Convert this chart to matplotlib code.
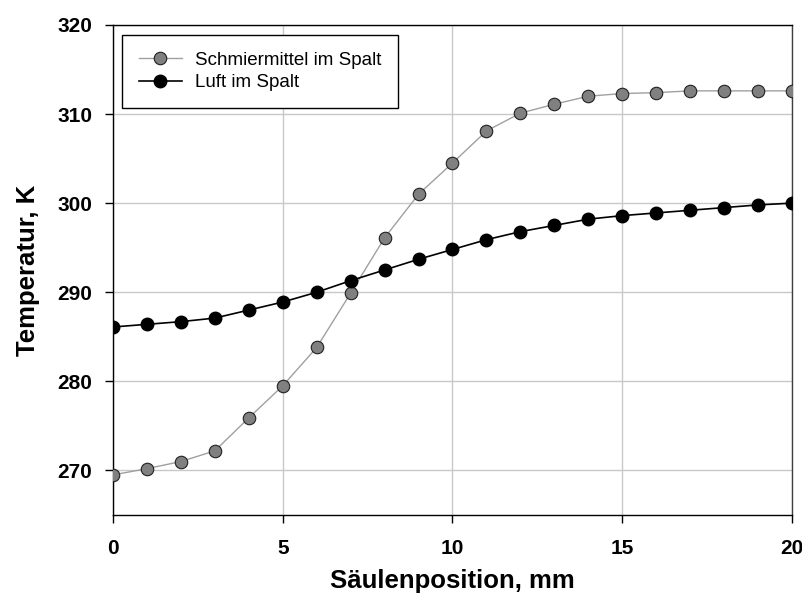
import matplotlib
matplotlib.use("Agg")
import matplotlib.pyplot as plt
import numpy as np

# Säulenposition, mm
position = np.arange(0, 21)

# Temperatur, K
schmiermittel = [269.5, 270.2, 271.0, 272.2, 275.9, 279.5, 283.8, 289.9, 296.1, 301.0,
                 304.5, 308.1, 310.1, 311.1, 312.0, 312.3, 312.4, 312.6, 312.6, 312.6, 312.6]
luft = [286.1, 286.4, 286.7, 287.1, 288.0, 288.9, 290.0, 291.3, 292.5, 293.7,
        294.8, 295.9, 296.8, 297.5, 298.2, 298.6, 298.9, 299.2, 299.5, 299.8, 300.0]

x_ticks = [0, 5, 10, 15, 20]
y_ticks = [270, 280, 290, 300, 310, 320]

plt.rcParams["font.family"] = ["Liberation Sans", "DejaVu Sans"]

fig = plt.figure(figsize=(8.03, 5.98), dpi=100)
ax = fig.add_axes([0.1407, 0.1388, 0.8456, 0.8195])

ax.plot(position, schmiermittel, color="#a0a0a0", lw=1.0, marker="o", ms=9,
        mfc="#808080", mec="#202020", mew=0.8, label="Schmiermittel im Spalt", zorder=3)
ax.plot(position, luft, color="black", lw=1.2, marker="o", ms=9,
        mfc="black", mec="black", label="Luft im Spalt", zorder=3)

ax.set_xlim(0, 20)
ax.set_ylim(265, 320)
ax.set_xticks(x_ticks)
ax.set_yticks(y_ticks)
ax.grid(True, color="#c8c8c8", lw=1.0)
ax.set_axisbelow(True)

ax.tick_params(axis="y", direction="out", length=6, width=1, labelsize=15, pad=9)
ax.tick_params(axis="x", direction="out", length=6, width=1, labelsize=15, pad=11)
for lab in ax.get_xticklabels() + ax.get_yticklabels():
    lab.set_fontweight("bold")
for s in ax.spines.values():
    s.set_linewidth(1.0)
ax.spines["right"].set_color("#404040")

ax.set_xlabel("Säulenposition, mm", fontsize=18.5, fontweight="bold", labelpad=8)
ax.set_ylabel("Temperatur, K", fontsize=18.5, fontweight="bold", labelpad=12)

leg = ax.legend(loc="upper left", bbox_to_anchor=(0.013, 0.98), borderaxespad=0,
                fontsize=13.5, frameon=True, fancybox=False,
                edgecolor="black", framealpha=1, borderpad=0.9,
                handlelength=2.3, handletextpad=0.7, labelspacing=0.3)
leg.get_frame().set_linewidth(1.0)

fig.savefig("out.png", dpi=100)
